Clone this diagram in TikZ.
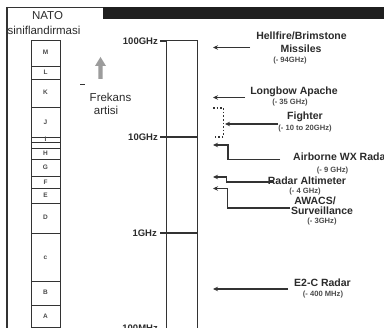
\documentclass[tikz,border=0pt]{standalone}
\usepackage{fontspec}
\setmainfont{Liberation Sans}
\usetikzlibrary{arrows.meta}
\definecolor{ink}{HTML}{333333}
\definecolor{txt}{HTML}{2B2B2B}
\definecolor{upgray}{HTML}{9C9C9C}
\begin{document}
\begin{tikzpicture}[x=1pt,y=-1pt,
  line/.style={draw=ink,line width=1.1pt},
  arr/.style={draw=ink,line width=1.1pt,-{Stealth[length=5pt,width=4.5pt]}},
  big/.style={font=\fontsize{10.5}{12}\selectfont\bfseries,text=txt,inner sep=0},
  small/.style={font=\fontsize{7.6}{8}\selectfont\bfseries,text=txt!85,inner sep=0},
  bandlbl/.style={font=\fontsize{6.5}{7}\selectfont\bfseries,text=txt!85,inner sep=0},
  ticklbl/.style={font=\fontsize{9.5}{11}\selectfont\bfseries,text=txt,inner sep=0,anchor=east},
  plain/.style={font=\fontsize{11.5}{13}\selectfont,text=txt,inner sep=0}]
\useasboundingbox (0,0) rectangle (384,328);
\fill[white] (0,0) rectangle (384,328);
\begin{scope}
\clip (0,0) rectangle (384,328);
% frame
\draw[ink,line width=0.9pt] (7,7) -- (384,7);
\fill[black!88] (103,7) rectangle (384,19);
\draw[ink,line width=2pt] (7,7) -- (7,332);
% NATO heading
\node[plain] (nato) at (47.5,16) {NATO};
\node[plain] (sinif) at (44,30) {siniflandirmasi};
% NATO band column
\draw[draw=ink,line width=0.8pt] (31,40) rectangle (60,340);
\foreach \yy in {66,79,107,137,142,148,159,176,188,203,233,281,305,327}
  \draw[draw=ink,line width=0.8pt] (31,\yy) -- (60,\yy);
\node[bandlbl] (bM) at (45.5,52) {M};
\node[bandlbl] (bL) at (45.5,72) {L};
\node[bandlbl] (bK) at (45.5,92.5) {K};
\node[bandlbl] (bJ) at (45.5,122) {J};
\node[bandlbl] (bI) at (45.5,139.5) {I};
\node[bandlbl] (bH) at (45.5,153.5) {H};
\node[bandlbl] (bG) at (45.5,167.5) {G};
\node[bandlbl] (bF) at (45.5,182) {F};
\node[bandlbl] (bE) at (45.5,195.5) {E};
\node[bandlbl] (bD) at (45.5,217.5) {D};
\node[bandlbl] (bC) at (45.5,257.5) {c};
\node[bandlbl] (bB) at (45.5,292.5) {B};
\node[bandlbl] (bA) at (45.5,316.5) {A};
% frequency increase arrow
\fill[upgray] (98.3,79) -- (98.3,66) -- (95,66) -- (100.5,57) -- (106,66) -- (102.7,66) -- (102.7,79) -- cycle;
\draw[ink,line width=0.8pt] (80,84.5) -- (85,84.5);
\node[plain] (frek) at (110.5,97) {Frekans};
\node[plain] (artisi) at (106,110) {artisi};
% frequency column
\draw[draw=ink,line width=1pt] (166,41) rectangle (197,345);
\draw[line] (160,41) -- (166,41);
\draw[line] (160,137) -- (197,137);
\draw[line] (160,233) -- (197,233);
\draw[line] (160,331) -- (197,331);
\node[ticklbl] (f100g) at (158,41) {100GHz};
\node[ticklbl] (f10g) at (158,137) {10GHz};
\node[ticklbl] (f1g) at (157,233) {1GHz};
\node[ticklbl] (f100m) at (158,328.5) {100MHz};
% Hellfire
\node[big] (hf1) at (301.5,36) {Hellfire/Brimstone};
\node[big] (hf2) at (301,49) {Missiles};
\node[small] (hf3) at (290,61) {(- 94GHz)};
\coordinate (hfT) at (250,47.5);
\coordinate (hfH) at (213,47.5);
\draw[arr] (hfT) -- (hfH);
% Longbow
\node[big] (lb1) at (294,91.5) {Longbow Apache};
\node[small] (lb2) at (290,102.5) {(- 35 GHz)};
\coordinate (lbT) at (245,97.5);
\coordinate (lbH) at (213,97.5);
\draw[arr] (lbT) -- (lbH);
% Fighter
\node[big] (fi1) at (305,117) {Fighter};
\node[small] (fi2) at (305,128.5) {(- 10 to 20GHz)};
\coordinate (brA) at (213,108);
\coordinate (brB) at (223.5,137);
\coordinate (brC) at (213,137);
\draw[draw=ink,line width=1.6pt,dotted] (brA) -| (brB) -- (brC);
\coordinate (fiT) at (278,124);
\coordinate (fiH) at (225,124);
\draw[arr] (fiT) -- (fiH);
% Airborne WX
\node[big,anchor=west] (wx1) at (293,157) {Airborne WX Rada};
\node[small] (wx2) at (332.5,170.5) {(- 9 GHz)};
\coordinate (wxT) at (280,159.5);
\coordinate (wxK) at (228,145);
\coordinate (wxH) at (213,145);
\draw[arr] (wxT) -| (wxK) -- (wxH);
% Radar altimeter
\node[big] (ra1) at (307,181) {Radar Altimeter};
\node[small] (ra2) at (305,192) {(- 4 GHz)};
\coordinate (raT) at (274,182);
\coordinate (raK) at (226.5,177);
\coordinate (raH) at (213,177);
\draw[arr] (raT) -| (raK) -- (raH);
% AWACS
\node[big] (aw1) at (315,200.5) {AWACS/};
\node[big] (aw2) at (322,211) {Surveillance};
\node[small] (aw3) at (322,222) {(- 3GHz)};
\coordinate (awT) at (290,208);
\coordinate (awK) at (227.5,188.5);
\coordinate (awH) at (213,188.5);
\draw[arr] (awT) -| (awK) -- (awH);
% E2-C
\node[big] (e21) at (322.5,282.5) {E2-C Radar};
\node[small] (e22) at (323,295) {(- 400 MHz)};
\coordinate (e2T) at (288,289);
\coordinate (e2H) at (213,289);
\draw[arr] (e2T) -- (e2H);
\end{scope}
\end{tikzpicture}
\end{document}
